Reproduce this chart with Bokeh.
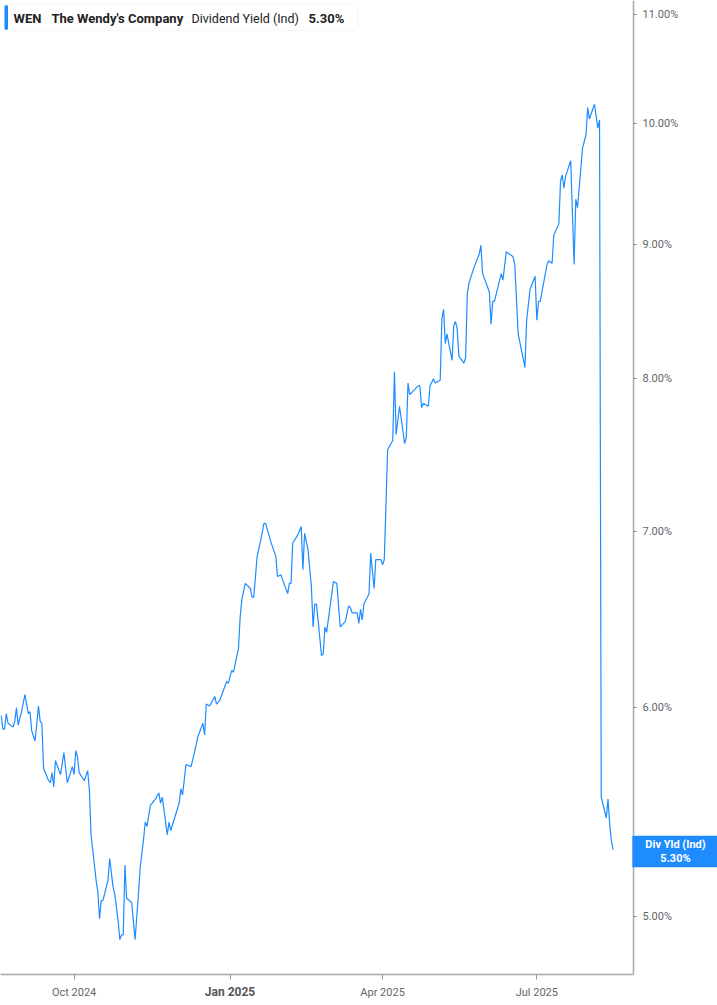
import math
from datetime import datetime, timedelta

import pandas as pd
from bokeh.plotting import figure
from bokeh.models import (FixedTicker, PrintfTickFormatter, CustomJSTickFormatter,
                          Label, BoxAnnotation)
from bokeh.embed import file_html
from bokeh.resources import INLINE

# ---------------- data ----------------
TICKER = "WEN"
COMPANY = "The Wendy's Company"
METRIC = "Dividend Yield (Ind)"
SHORT_METRIC = "Div Yld (Ind)"
LAST_VALUE = "5.30%"

dates = [
    "2024-08-19", "2024-08-20", "2024-08-21", "2024-08-22", "2024-08-23", "2024-08-26",
    "2024-08-27", "2024-08-28", "2024-08-29", "2024-08-31", "2024-09-02", "2024-09-04",
    "2024-09-05", "2024-09-06", "2024-09-08", "2024-09-10", "2024-09-11", "2024-09-12",
    "2024-09-13", "2024-09-16", "2024-09-17", "2024-09-18", "2024-09-19", "2024-09-20",
    "2024-09-23", "2024-09-25", "2024-09-27", "2024-09-30", "2024-10-01", "2024-10-02",
    "2024-10-03", "2024-10-04", "2024-10-07", "2024-10-09", "2024-10-10", "2024-10-11",
    "2024-10-14", "2024-10-15", "2024-10-16", "2024-10-17", "2024-10-18", "2024-10-21",
    "2024-10-22", "2024-10-24", "2024-10-25", "2024-10-27", "2024-10-28", "2024-10-29",
    "2024-10-30", "2024-10-31", "2024-11-01", "2024-11-04", "2024-11-06", "2024-11-08",
    "2024-11-09", "2024-11-11", "2024-11-12", "2024-11-13", "2024-11-15", "2024-11-18",
    "2024-11-20", "2024-11-21", "2024-11-22", "2024-11-25", "2024-11-26", "2024-11-27",
    "2024-12-02", "2024-12-03", "2024-12-04", "2024-12-06", "2024-12-09", "2024-12-11",
    "2024-12-13", "2024-12-16", "2024-12-17", "2024-12-18", "2024-12-20", "2024-12-23",
    "2024-12-24", "2024-12-26", "2024-12-30", "2024-12-31", "2025-01-02", "2025-01-03",
    "2025-01-06", "2025-01-07", "2025-01-08", "2025-01-10", "2025-01-13", "2025-01-14",
    "2025-01-15", "2025-01-17", "2025-01-19", "2025-01-21", "2025-01-22", "2025-01-25",
    "2025-01-28", "2025-01-29", "2025-01-31", "2025-02-04", "2025-02-05", "2025-02-06",
    "2025-02-07", "2025-02-10", "2025-02-12", "2025-02-13", "2025-02-14", "2025-02-16",
    "2025-02-18", "2025-02-19", "2025-02-20", "2025-02-21", "2025-02-24", "2025-02-25",
    "2025-02-26", "2025-02-27", "2025-03-03", "2025-03-05", "2025-03-07", "2025-03-10",
    "2025-03-12", "2025-03-13", "2025-03-14", "2025-03-17", "2025-03-18", "2025-03-19",
    "2025-03-20", "2025-03-21", "2025-03-24", "2025-03-25", "2025-03-27", "2025-03-28",
    "2025-03-31", "2025-04-01", "2025-04-02", "2025-04-04", "2025-04-07", "2025-04-08",
    "2025-04-09", "2025-04-11", "2025-04-14", "2025-04-15", "2025-04-16", "2025-04-17",
    "2025-04-22", "2025-04-23", "2025-04-24", "2025-04-25", "2025-04-28", "2025-04-29",
    "2025-05-01", "2025-05-02", "2025-05-05", "2025-05-06", "2025-05-07", "2025-05-08",
    "2025-05-09", "2025-05-12", "2025-05-13", "2025-05-14", "2025-05-15", "2025-05-16",
    "2025-05-19", "2025-05-20", "2025-05-21", "2025-05-22", "2025-05-25", "2025-05-28",
    "2025-05-29", "2025-05-30", "2025-06-01", "2025-06-03", "2025-06-04", "2025-06-05",
    "2025-06-06", "2025-06-10", "2025-06-11", "2025-06-13", "2025-06-17", "2025-06-18",
    "2025-06-20", "2025-06-24", "2025-06-25", "2025-06-27", "2025-06-30", "2025-07-01",
    "2025-07-02", "2025-07-03", "2025-07-07", "2025-07-08", "2025-07-10", "2025-07-11",
    "2025-07-14", "2025-07-15", "2025-07-16", "2025-07-17", "2025-07-18", "2025-07-21",
    "2025-07-23", "2025-07-24", "2025-07-25", "2025-07-28", "2025-07-30", "2025-07-31",
    "2025-08-01", "2025-08-04", "2025-08-06", "2025-08-07", "2025-08-08", "2025-08-11",
    "2025-08-12", "2025-08-13", "2025-08-14", "2025-08-15",
]

div_yield = [
    5.96, 5.89, 5.89, 5.97, 5.92, 5.90,
    5.93, 6.00, 5.91, 5.98, 6.07, 5.97,
    5.98, 5.88, 5.83, 6.01, 5.93, 5.92,
    5.69, 5.63, 5.62, 5.67, 5.60, 5.73,
    5.66, 5.77, 5.62, 5.70, 5.66, 5.78,
    5.75, 5.67, 5.63, 5.68, 5.59, 5.37,
    5.16, 5.11, 4.99, 5.07, 5.07, 5.16,
    5.26, 5.13, 5.10, 4.98, 4.90, 4.92,
    4.92, 5.23, 5.08, 5.06, 4.90, 5.10,
    5.22, 5.35, 5.43, 5.41, 5.51, 5.54,
    5.57, 5.52, 5.55, 5.37, 5.43, 5.39,
    5.52, 5.59, 5.56, 5.71, 5.70, 5.77,
    5.85, 5.92, 5.86, 6.02, 6.01, 6.06,
    6.02, 6.04, 6.14, 6.13, 6.20, 6.19,
    6.32, 6.50, 6.60, 6.69, 6.66, 6.61,
    6.61, 6.85, 6.94, 7.05, 7.05, 6.94,
    6.85, 6.73, 6.74, 6.63, 6.69, 6.69,
    6.93, 6.98, 7.03, 6.77, 6.99, 6.89,
    6.67, 6.44, 6.57, 6.57, 6.28, 6.29,
    6.44, 6.41, 6.70, 6.69, 6.44, 6.47,
    6.56, 6.55, 6.52, 6.52, 6.46, 6.54,
    6.48, 6.57, 6.63, 6.87, 6.66, 6.83,
    6.83, 6.80, 6.83, 7.52, 7.58, 8.05,
    7.62, 7.81, 7.56, 7.60, 7.97, 7.89,
    7.95, 7.95, 7.80, 7.83, 7.81, 7.95,
    8.00, 7.97, 7.99, 8.43, 8.50, 8.25,
    8.32, 8.13, 8.38, 8.41, 8.36, 8.16,
    8.11, 8.15, 8.62, 8.70, 8.82, 8.92,
    8.99, 8.77, 8.70, 8.63, 8.39, 8.56,
    8.56, 8.77, 8.72, 8.94, 8.90, 8.84,
    8.32, 8.08, 8.42, 8.65, 8.75, 8.42,
    8.56, 8.56, 8.84, 8.87, 8.85, 9.07,
    9.16, 9.51, 9.56, 9.45, 9.55, 9.68,
    8.84, 9.36, 9.29, 9.79, 9.90, 10.14,
    10.04, 10.17, 9.96, 10.03, 5.55, 5.45,
    5.54, 5.42, 5.34, 5.30,
]

x_tick_dates = ["2024-10-01", "2025-01-01", "2025-04-01", "2025-07-01"]
y_ticks = [5, 6, 7, 8, 9, 10, 11]

# ---------------- geometry helpers (reference pixel -> data) ----------------
BLUE = "#1E8CFF"
EPOCH = datetime(1970, 1, 1)
W, H = 717, 1005
AX_X, AX_Y = 633, 974   # pixel position of the right / bottom axis lines


def ms(dt):
    return (dt - EPOCH).total_seconds() * 1000.0


def rx(px):
    return datetime(2024, 8, 19) + timedelta(days=(px - 0.7) / 1.695)


def ry(py):
    return 10.0 * math.exp(0.00087412 * (123 - py))


p = figure(
    width=W, height=H,
    x_axis_type="datetime", y_axis_type="log",
    y_axis_location="right",
    x_range=(rx(0), rx(W)), y_range=(ry(H), ry(0)),
    output_backend="svg", toolbar_location=None,
    min_border=0, min_border_left=0, min_border_top=0,
    min_border_right=0, min_border_bottom=0,
    background_fill_color="white", border_fill_color="white",
)
p.outline_line_color = None
p.xgrid.visible = False
p.ygrid.visible = False

x = pd.to_datetime(dates)
p.line(x, div_yield, line_color=BLUE, line_width=1.2)

# y axis (drawn at a fixed position so labels/tags can live beside it)
ya = p.yaxis[0]
ya.fixed_location = ms(rx(AX_X))
ya.bounds = (ry(AX_Y), ry(0))
ya.ticker = FixedTicker(ticks=y_ticks, minor_ticks=[])
ya.formatter = PrintfTickFormatter(format="%.2f%%")
ya.axis_line_color = "#a8a8a8"
ya.axis_line_width = 1.5
ya.major_tick_line_color = "#888888"
ya.major_tick_out = 3
ya.major_tick_in = 0
ya.minor_tick_line_color = None
ya.major_label_standoff = 6
ya.major_label_text_font = "Roboto"
ya.major_label_text_font_size = "11px"
ya.major_label_text_color = "#666666"

# x axis
xa = p.xaxis[0]
xa.fixed_location = ry(AX_Y)
xa.bounds = (ms(rx(0)), ms(rx(AX_X)))
xa.ticker = FixedTicker(ticks=[ms(datetime.fromisoformat(d)) for d in x_tick_dates], minor_ticks=[])
xa.formatter = CustomJSTickFormatter(code="""
const d = new Date(tick);
const m = d.getUTCMonth();
if (m === 0) { return ""; }
const names = ["Jan","Feb","Mar","Apr","May","Jun","Jul","Aug","Sep","Oct","Nov","Dec"];
return names[m] + " " + d.getUTCFullYear();
""")
xa.axis_line_color = "#a8a8a8"
xa.axis_line_width = 1.5
xa.major_tick_line_color = "#999999"
xa.major_tick_out = 5
xa.major_tick_in = 0
xa.minor_tick_line_color = None
xa.major_label_standoff = 6
xa.major_label_text_font = "Roboto"
xa.major_label_text_font_size = "11px"
xa.major_label_text_color = "#666666"

# bold year label
for d in x_tick_dates:
    dt = datetime.fromisoformat(d)
    if dt.month == 1:
        p.add_layout(Label(x=ms(dt), y=ry(991), text=dt.strftime("%b %Y"),
                           text_align="center", text_baseline="middle",
                           text_font="Roboto", text_font_size="12px",
                           text_font_style="bold", text_color="#555555"))

# header legend box
p.add_layout(BoxAnnotation(left=ms(rx(4)), right=ms(rx(357)),
                           top=ry(4), bottom=ry(30),
                           fill_color="white", fill_alpha=1.0,
                           line_color="#e2e2e2", line_width=1, border_radius=3))
p.add_layout(BoxAnnotation(left=ms(rx(4)), right=ms(rx(7.5)),
                           top=ry(4.5), bottom=ry(29.5),
                           fill_color=BLUE, fill_alpha=1.0, line_color=None,
                           border_radius=2))
header = [(TICKER, 13, "bold", "13px"), (COMPANY, 51, "bold", "13px"),
          (METRIC, 191, "normal", "12.5px"), (LAST_VALUE, 308, "bold", "13px")]
for txt, px, style, size in header:
    p.add_layout(Label(x=ms(rx(px)), y=ry(17.5), text=txt,
                       text_align="left", text_baseline="middle",
                       text_font="Roboto", text_font_size=size,
                       text_font_style=style, text_color="#222222"))

# last value tag on the right
p.add_layout(Label(x=ms(rx(675)), y=ry(851), text=SHORT_METRIC + "\n" + LAST_VALUE,
                   text_align="center", text_baseline="middle",
                   text_font="Roboto", text_font_size="11px", text_font_style="bold",
                   text_color="white", text_line_height=1.1,
                   background_fill_color=BLUE, background_fill_alpha=1.0,
                   padding=(13, 2)))

open("out.html", "w").write(file_html(p, INLINE))
